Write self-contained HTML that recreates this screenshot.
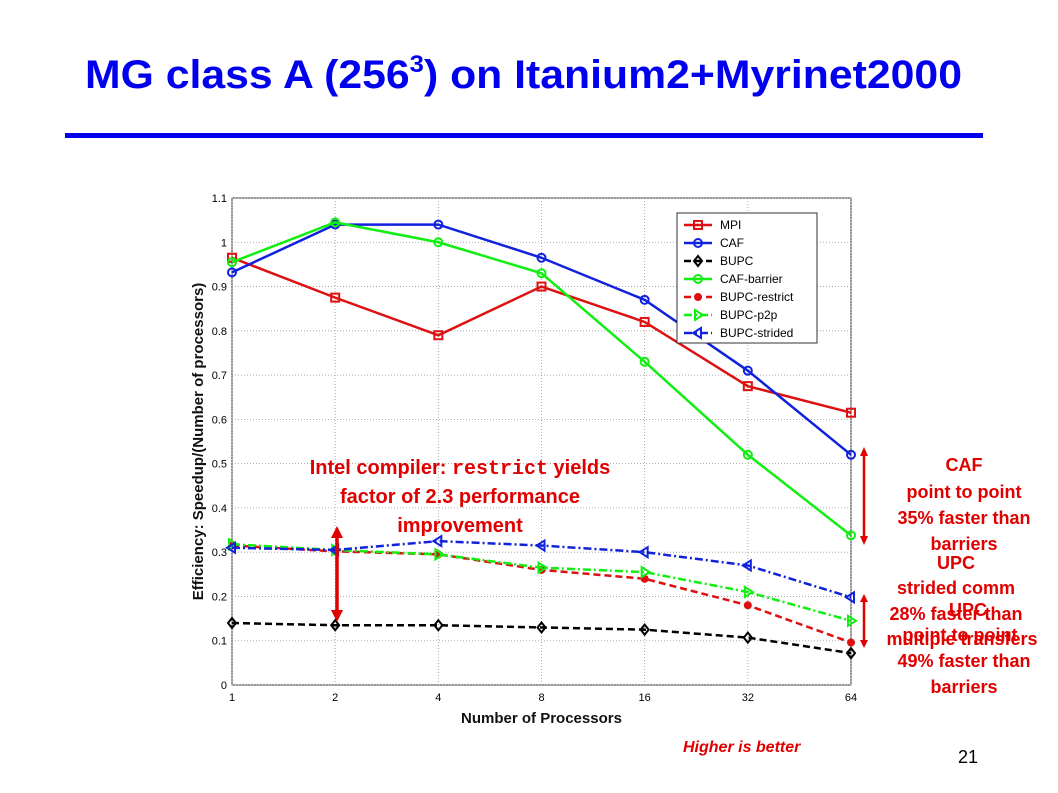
<!DOCTYPE html>
<html><head><meta charset="utf-8"><style>
body{margin:0;background:#fff;}
svg{display:block;font-family:"Liberation Sans",Arial,sans-serif;}
</style></head><body>
<svg width="1058" height="793" viewBox="0 0 1058 793" xmlns="http://www.w3.org/2000/svg">
<text x="85" y="88" font-size="40" font-weight="bold" fill="#0000ee" textLength="877" lengthAdjust="spacingAndGlyphs">MG class A (256<tspan font-size="24" dy="-16">3</tspan><tspan dy="16">) on Itanium2+Myrinet2000</tspan></text>
<rect x="65" y="133" width="918" height="5" fill="#0000ee"/>
<g id="chart"></g>
<text x="958" y="763" font-size="18">21</text>
<text x="683" y="752" font-size="16" font-weight="bold" font-style="italic" fill="#e00000">Higher is better</text>
<g font-size="20" font-weight="bold" fill="#e00000" text-anchor="middle">
<text x="460" y="474">Intel compiler: <tspan font-family="Liberation Mono,monospace">restrict</tspan> yields</text>
<text x="460" y="503">factor of 2.3 performance</text>
<text x="460" y="532">improvement</text>
</g>
<g font-size="18" font-weight="bold" fill="#e00000" text-anchor="middle">
<text x="964" y="471">CAF</text><text x="964" y="498">point to point</text><text x="964" y="524">35% faster than</text><text x="964" y="550">barriers</text>
</g>
<g font-size="18" font-weight="bold" fill="#e00000" text-anchor="middle">
<text x="956" y="569">UPC</text><text x="956" y="594">strided comm</text><text x="956" y="620">28% faster than</text><text x="962" y="645">multiple transfers</text>
</g>
<g font-size="18" font-weight="bold" fill="#e00000" text-anchor="middle">
<text x="968" y="616">UPC</text><text x="960" y="641">point to point</text><text x="964" y="667">49% faster than</text><text x="964" y="693">barriers</text>
</g>
<g stroke="#e00000" stroke-width="2.5" fill="#e00000">
<line x1="337" y1="536" x2="337" y2="612" stroke-width="3.5"/>
<polygon points="331,538 343,538 337,526" stroke="none"/><polygon points="331,610 343,610 337,622" stroke="none"/>
<line x1="864" y1="452" x2="864" y2="540"/>
<polygon points="860,456 868,456 864,447" stroke="none"/><polygon points="860,536 868,536 864,545" stroke="none"/>
<line x1="864" y1="600" x2="864" y2="642"/>
<polygon points="860,602 868,602 864,594" stroke="none"/><polygon points="860,640 868,640 864,648" stroke="none"/>
</g>
</svg>
<script>
const categories=["1","2","4","8","16","32","64"];
const yTicks=[0,0.1,0.2,0.3,0.4,0.5,0.6,0.7,0.8,0.9,1,1.1];
const seriesNames=["MPI","CAF","BUPC","CAF-barrier","BUPC-restrict","BUPC-p2p","BUPC-strided"];
const mpi=[0.965,0.875,0.79,0.9,0.82,0.675,0.615];
const caf=[0.932,1.04,1.04,0.965,0.87,0.71,0.52];
const bupc=[0.14,0.135,0.135,0.13,0.125,0.107,0.072];
const cafBarrier=[0.955,1.045,1.0,0.93,0.73,0.52,0.338];
const bupcRestrict=[0.315,0.302,0.295,0.26,0.24,0.18,0.096];
const bupcP2p=[0.318,0.305,0.295,0.265,0.255,0.21,0.145];
const bupcStrided=[0.31,0.305,0.325,0.315,0.3,0.27,0.198];

const NS="http://www.w3.org/2000/svg";
const g=document.getElementById('chart');
const X0=232,X1=851,Y0=685,Y1=198;
const xs=i=>X0+(X1-X0)*i/(categories.length-1);
const ys=v=>Y0-(Y0-Y1)*v/1.1;
function mk(t,a,p){const e=document.createElementNS(NS,t);for(const k in a)e.setAttribute(k,a[k]);(p||g).appendChild(e);return e;}
const frame=mk('rect',{x:X0,y:Y1,width:X1-X0,height:Y0-Y1,fill:'#fff',stroke:'#333','stroke-width':1});


yTicks.forEach(v=>{
 const l=mk('line',{x1:X0,x2:X1,y1:ys(v),y2:ys(v),stroke:'#999','stroke-dasharray':'1,2','stroke-width':0.8});
 
 
 const t=mk('text',{x:X0-5,y:ys(v)+4,'font-size':11,'text-anchor':'end'});
 t.textContent=String(v);
 
 
});
categories.forEach((c,i)=>{
 const l=mk('line',{x1:xs(i),x2:xs(i),y1:Y1,y2:Y0,stroke:'#999','stroke-dasharray':'1,2','stroke-width':0.8});
 
 
 const t=mk('text',{x:xs(i),y:Y0+16,'font-size':11,'text-anchor':'middle'});
 t.textContent=c;
 
 
});
const xt=mk('text',{x:(X0+X1)/2,y:Y0+38,'font-size':15,'font-weight':'bold','text-anchor':'middle',fill:'#111'});
xt.textContent='Number of Processors';


const yt=mk('text',{x:0,y:0,'font-size':15,'font-weight':'bold','text-anchor':'middle',fill:'#111',transform:'translate(203,'+((Y0+Y1)/2)+') rotate(-90)'});
yt.textContent='Efficiency: Speedup/(Number of processors)';



const styles=[
 {d:mpi,c:'#dd1111',dash:'',m:'sq'},
 {d:caf,c:'#1122dd',dash:'',m:'o'},
 {d:bupc,c:'#000',dash:'7,4',m:'dia'},
 {d:cafBarrier,c:'#11ee11',dash:'',m:'o'},
 {d:bupcRestrict,c:'#dd1111',dash:'7,4',m:'dot'},
 {d:bupcP2p,c:'#11ee11',dash:'8,3,2,3',m:'tri'},
 {d:bupcStrided,c:'#1122dd',dash:'8,3,2,3',m:'tril'}];
function marker(p,type,x,y,c){
 let e;
 if(type==='sq')e=mk('rect',{x:x-4,y:y-4,width:8,height:8,fill:'none',stroke:c,'stroke-width':2},p);
 else if(type==='o')e=mk('circle',{cx:x,cy:y,r:4,fill:'none',stroke:c,'stroke-width':2},p);
 else if(type==='dia')e=mk('polygon',{points:`${x},${y-5} ${x+4},${y} ${x},${y+5} ${x-4},${y}`,fill:'none',stroke:c,'stroke-width':2},p);
 else if(type==='dot')e=mk('circle',{cx:x,cy:y,r:3.5,fill:c,stroke:c},p);
 else if(type==='tri')e=mk('polygon',{points:`${x-3},${y-5} ${x+5},${y} ${x-3},${y+5}`,fill:'none',stroke:c,'stroke-width':2},p);
 else e=mk('polygon',{points:`${x+3},${y-5} ${x-5},${y} ${x+3},${y+5}`,fill:'none',stroke:c,'stroke-width':2},p);
 return e;
}
styles.forEach((s,k)=>{
 const sg=mk('g',{});
 
 
 const pl=mk('polyline',{points:s.d.map((v,i)=>xs(i)+','+ys(v)).join(' '),fill:'none',stroke:s.c,'stroke-width':2.5,'stroke-dasharray':s.dash},sg);
 
 
 s.d.forEach((v,i)=>{const m=marker(sg,s.m,xs(i),ys(v),s.c);
  
  });
});
const lg=mk('g',{});


mk('rect',{x:677,y:213,width:140,height:130,fill:'#fff',stroke:'#333','stroke-width':1},lg);
styles.forEach((s,k)=>{
 const y=225+k*18;
 const e=mk('g',{},lg);
 
 
 mk('line',{x1:684,x2:712,y1:y,y2:y,stroke:s.c,'stroke-width':2.5,'stroke-dasharray':s.dash},e);
 marker(e,s.m,698,y,s.c);
 const t=mk('text',{x:720,y:y+4,'font-size':12},e);
 t.textContent=seriesNames[k];
});
</script>
</body></html>
